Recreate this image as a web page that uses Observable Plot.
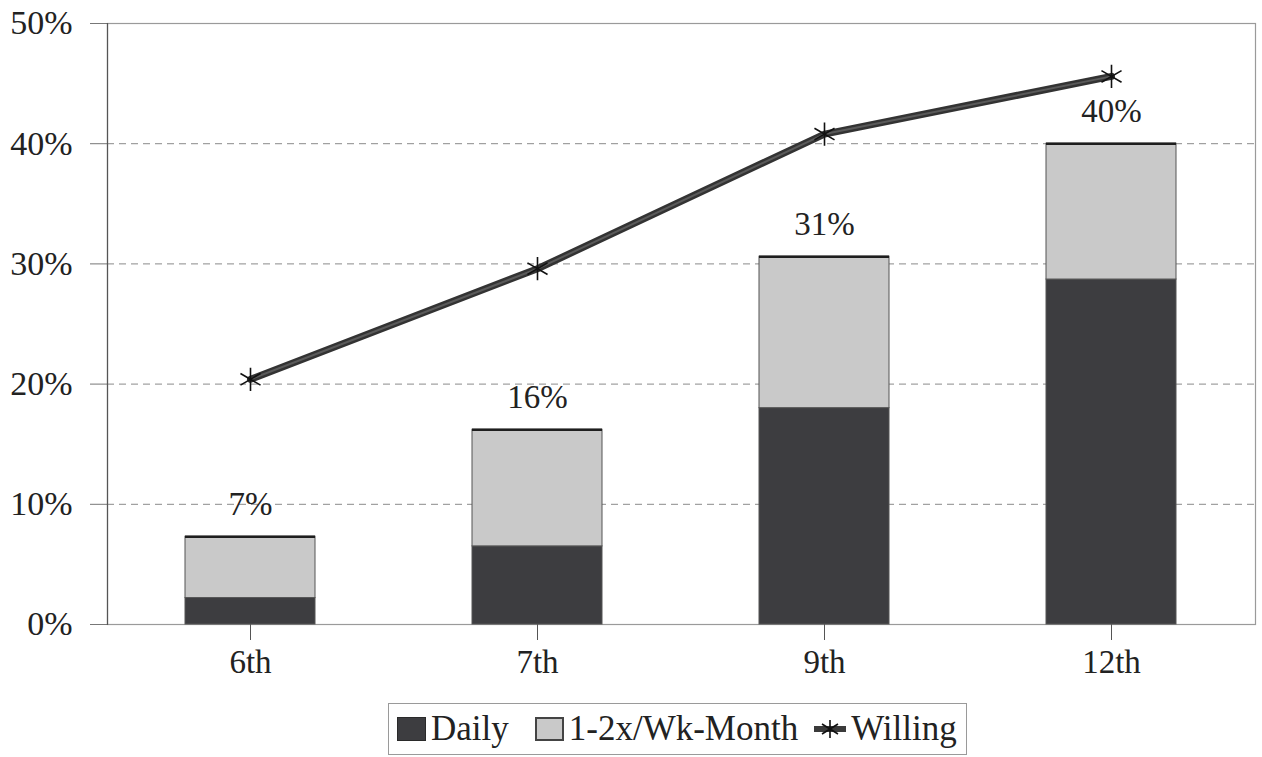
<!DOCTYPE html>
<html>
<head>
<meta charset="utf-8">
<script src="https://cdn.jsdelivr.net/npm/d3@7"></script>
<script src="https://cdn.jsdelivr.net/npm/@observablehq/plot@0.6"></script>
<style>
  body { margin: 0; background: #fff; font-family: "Liberation Serif", serif; }
  #wrap { position: relative; width: 1262px; height: 757px; }
  #legend {
    position: absolute; left: 388px; top: 703px; width: 579px; height: 52px;
    border: 1px solid #9a9a9a; display: flex; align-items: center;
    font-family: "Liberation Serif", serif; font-size: 35px; color: #222;
    box-sizing: border-box; padding-left: 8px;
  }
  .sw { display: inline-block; width: 29px; height: 24px; box-sizing: border-box; margin-right: 5px; }
  .item { display: flex; align-items: center; white-space: nowrap; }
</style>
</head>
<body>
<div id="wrap">
  <div id="chart"></div>
  <div id="legend">
    <span class="item" style="margin-right:26px"><span class="sw" style="background:#3d3d40;border:1px solid #2a2a2a"></span>Daily</span>
    <span class="item" style="margin-right:14px"><span class="sw" style="background:#c9c9c9;border:2px solid #444"></span>1-2x/Wk-Month</span>
    <span class="item"><svg width="36" height="30" style="margin-right:3px">
      <line x1="2" y1="15" x2="34" y2="15" stroke="#3b3b3b" stroke-width="6"/>
      <path d="M18 6 L18 24 M10 10 L26 20 M10 20 L26 10" stroke="#111" stroke-width="1.6" fill="none"/>
    </svg>Willing</span>
  </div>
</div>
<script>
// Grade levels
const grades = ["6th", "7th", "9th", "12th"];
// Share using daily (bottom segment)
const daily = [2.2, 6.5, 18.0, 28.7];
// Total share (daily + 1-2x/week to monthly)
const total = [7.3, 16.2, 30.6, 40.0];
// Share willing to try
const willing = [20.4, 29.6, 40.8, 45.6];
const yTicks = [0, 10, 20, 30, 40, 50];

const segments = grades.flatMap((g, i) => [
  {grade: g, group: "Daily", value: daily[i]},
  {grade: g, group: "1-2x/Wk-Month", value: +(total[i] - daily[i]).toFixed(1)}
]);
const totals = grades.map((g, i) => ({grade: g, total: total[i]}));
const willingData = grades.map((g, i) => ({grade: g, willing: willing[i]}));

const font = '"Liberation Serif", serif';

const chart = Plot.plot({
  width: 1262,
  height: 700,
  marginLeft: 107,
  marginRight: 7,
  marginTop: 23,
  marginBottom: 76,
  style: {fontFamily: font, color: "#222", background: "#fff"},
  x: {domain: grades, paddingInner: 0.547, paddingOuter: 0.2735, label: null},
  y: {domain: [0, 50], label: null},
  color: {domain: ["Daily", "1-2x/Wk-Month"], range: ["#3d3d40", "#c9c9c9"]},
  marks: [
    // dashed grid lines
    Plot.ruleY(yTicks.slice(1, -1), {stroke: "#8a8a8a", strokeDasharray: "7,5", strokeWidth: 1}),
    Plot.frame({stroke: "#9a9a9a", strokeWidth: 1.2}),
    Plot.ruleY([0], {stroke: "#9a9a9a", strokeWidth: 1.2}),
    Plot.axisY({ticks: yTicks, tickSize: 17, tickPadding: 18, fontSize: 34, tickFormat: d => d + "%", stroke: "#777"}),
    Plot.axisX({tickSize: 16, tickPadding: 9, fontSize: 33, stroke: "#555"}),
    Plot.frame({anchor: "left", stroke: "#555", strokeWidth: 1.2}),
    Plot.barY(segments, Plot.stackY({x: "grade", y: "value", fill: "group", order: ["Daily", "1-2x/Wk-Month"], stroke: "#555", strokeWidth: 1})),
    // dark top edge of each bar
    Plot.tickY(totals, {x: "grade", y: "total", stroke: "#1e1e1e", strokeWidth: 2.5}),
    Plot.text(totals, {x: "grade", y: "total", text: d => Math.round(d.total) + "%", dy: -32, fontSize: 33, fill: "#222"}),
    Plot.line(willingData, {x: "grade", y: "willing", stroke: "#333", strokeWidth: 7}),
    Plot.line(willingData, {x: "grade", y: "willing", stroke: "#5a5a5a", strokeWidth: 2}),
    Plot.dot(willingData, {x: "grade", y: "willing", symbol: "asterisk", r: 11, stroke: "#111", strokeWidth: 1.6})
  ]
});
document.getElementById("chart").appendChild(chart);
</script>
</body>
</html>
